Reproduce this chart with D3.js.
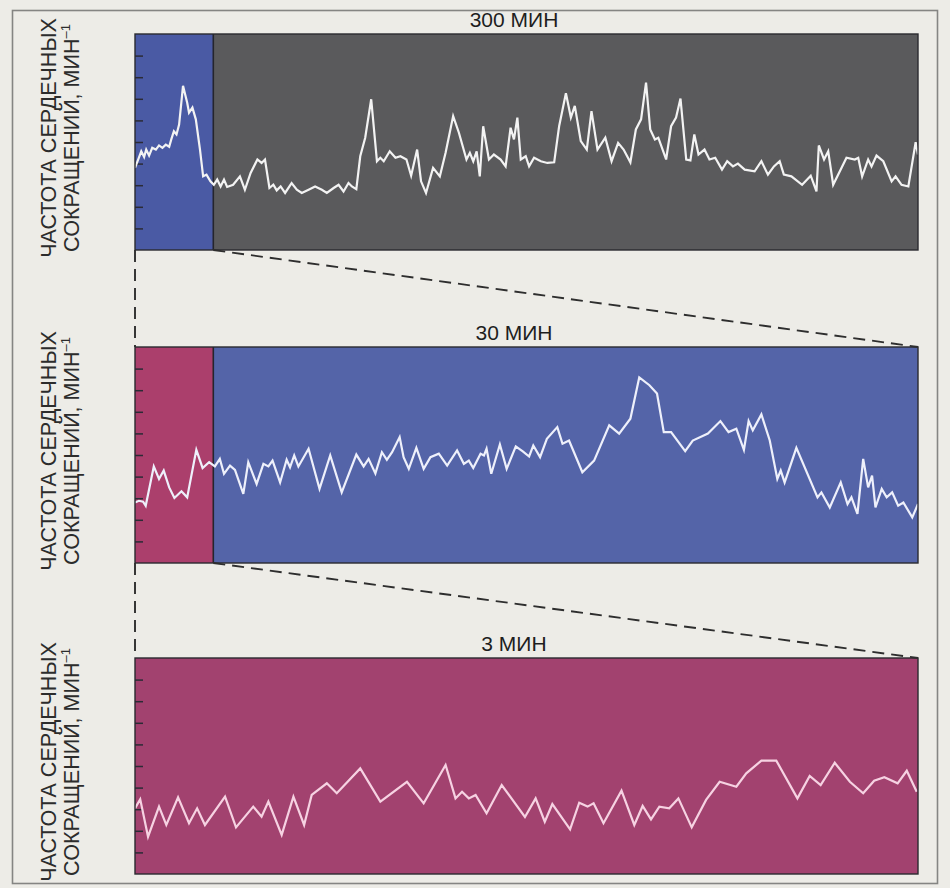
<!DOCTYPE html>
<html>
<head>
<meta charset="utf-8">
<script src="https://cdn.jsdelivr.net/npm/d3@7"></script>
<style>
  html, body { margin: 0; background: #edece7; }
  svg { display: block; }
</style>
</head>
<body>
<svg id="chart" width="950" height="888"></svg>
<script>
// heart rate, [minute, value in tick steps] (0 = panel bottom, 10 = top)
const hr300 = [
  [0,3.8],[1.5,4.28],[2.4,4.57],[3.5,4.31],[4.3,4.65],[5.4,4.37],[6.6,4.73],[8.0,4.65],[9.2,4.84],[10.5,4.73],
  [11.8,4.88],[13.1,4.78],[13.9,5.12],[14.9,5.5],[15.9,5.35],[16.9,5.81],[18.4,7.6],[20.0,6.82],[20.7,6.36],[22.0,6.59],
  [23.3,6.05],[24.9,4.65],[26.1,3.41],[27.4,3.49],[28.9,3.18],[30.2,3.02],[31.5,3.26],[32.8,2.94],[34.1,3.26],[35.3,2.92],
  [37.6,3.02],[40.2,3.41],[42.1,2.79],[44.3,3.57],[46.9,4.19],[48.5,4.03],[49.8,4.19],[51.5,2.87],[53.0,3.02],[54.3,2.76],
  [55.8,2.94],[57.5,2.64],[60.0,3.1],[62.0,2.79],[63.9,2.64],[66.5,2.79],[69.0,2.94],[71.6,2.79],[73.5,2.64],[76.1,2.87],
  [78.0,3.02],[79.9,2.71],[81.8,3.1],[83.1,2.94],[84.8,2.82],[86.3,4.34],[88.2,5.2],[90.5,6.98],[92.7,4.11],[94.0,4.27],
  [95.3,4.11],[97.6,4.57],[99.8,4.27],[101.7,4.34],[104.0,4.19],[105.8,3.44],[108.1,4.65],[109.6,3.18],[111.5,2.64],[114.2,3.8],
  [116.8,3.41],[119.0,4.5],[121.9,6.2],[124.1,5.43],[127.0,4.19],[128.3,4.5],[129.6,4.11],[130.9,4.57],[132.1,3.41],[133.4,5.73],
  [135.6,4.19],[137.5,4.42],[140.1,4.19],[142.0,3.87],[143.9,5.66],[145.2,5.12],[146.5,6.13],[147.8,4.19],[149.7,4.34],[151.0,3.87],
  [152.9,4.27],[155.5,4.11],[158.0,4.03],[160.6,4.06],[162.5,5.73],[165.1,7.26],[167.0,6.13],[168.5,6.67],[170.8,5.04],[173.1,4.65],
  [174.9,6.43],[177.2,4.65],[180.2,5.2],[182.6,4.11],[185.1,4.96],[187.2,4.65],[189.8,4.06],[191.9,5.58],[193.9,6.05],[195.8,7.75],
  [197.4,5.58],[199.2,5.12],[200.5,5.2],[203.5,4.19],[205.4,5.73],[207.3,6.13],[209.0,7.01],[211.2,4.19],[212.8,4.15],[214.3,5.35],
  [215.9,4.42],[218.2,4.65],[220.1,4.19],[222.3,4.27],[224.9,3.72],[226.9,4.11],[229.1,3.87],[231.0,4.0],[233.6,3.72],[237.4,3.64],
  [240.0,4.11],[242.5,3.49],[244.8,3.87],[247.0,4.11],[248.6,3.49],[251.5,3.41],[255.6,3.02],[258.9,3.44],[261.1,2.71],[262.0,4.84],
  [264.0,4.19],[265.6,4.57],[267.5,3.02],[272.6,4.27],[275.8,4.19],[277.1,4.27],[278.6,3.41],[280.9,4.19],[282.2,3.87],[284.1,4.37],
  [286.7,4.11],[289.9,3.18],[291.4,3.41],[293.7,3.02],[296.3,2.94],[299.1,4.99],[300,4.42]
];
const hr30 = [
  [0,2.8],[0.15,2.88],[0.31,2.84],[0.41,2.65],[0.72,4.47],[0.92,3.89],[1.10,4.28],[1.31,3.5],[1.51,3.01],[1.78,3.32],
  [2.00,3.04],[2.35,5.24],[2.59,4.4],[2.84,4.67],[3.06,4.47],[3.25,4.82],[3.41,4.13],[3.64,4.51],[3.83,4.31],[4.15,3.2],
  [4.34,4.67],[4.66,3.66],[4.92,4.59],[5.11,4.47],[5.27,4.74],[5.56,3.73],[5.81,4.78],[5.94,4.43],[6.10,4.98],[6.26,4.47],
  [6.65,5.29],[7.07,3.43],[7.48,4.98],[7.92,3.27],[8.48,5.02],[8.76,4.47],[8.95,4.82],[9.21,4.15],[9.46,5.13],[9.65,4.78],
  [9.85,5.13],[10.14,5.83],[10.29,4.9],[10.49,4.36],[10.78,5.33],[11.06,4.36],[11.32,4.9],[11.64,5.06],[11.96,4.51],[12.34,5.21],
  [12.60,4.59],[12.79,4.74],[12.96,4.4],[13.24,5.06],[13.37,4.98],[13.47,5.29],[13.65,4.13],[13.98,5.49],[14.24,4.36],[14.59,5.4],
  [14.87,5.16],[15.10,4.93],[15.26,5.44],[15.52,4.9],[15.78,5.75],[16.18,6.29],[16.38,5.52],[16.63,5.67],[17.14,4.2],[17.59,4.74],
  [18.17,6.37],[18.55,5.99],[18.98,6.68],[19.32,8.59],[19.71,8.23],[20.00,7.85],[20.26,6.06],[20.54,6.06],[21.08,5.18],[21.37,5.67],
  [21.95,5.99],[22.43,6.57],[22.74,6.06],[23.04,6.22],[23.33,5.24],[23.51,6.57],[23.67,6.14],[24.00,6.88],[24.32,5.67],[24.61,3.89],
  [24.74,4.28],[24.89,3.73],[25.34,5.33],[26.15,3.04],[26.30,3.27],[26.62,2.57],[27.04,3.73],[27.30,2.73],[27.45,3.04],[27.68,2.27],
  [27.90,4.82],[28.09,3.5],[28.24,4.05],[28.37,2.57],[28.61,3.43],[28.80,3.04],[29.01,3.27],[29.24,2.65],[29.44,2.8],[29.78,2.11],
  [30,2.73]
];
const hr3 = [
  [0,3.04],[0.020,3.46],[0.050,1.73],[0.092,3.12],[0.120,2.27],[0.165,3.55],[0.207,2.35],[0.238,3.04],[0.268,2.27],[0.345,3.58],
  [0.387,2.16],[0.453,3.12],[0.485,2.65],[0.511,3.35],[0.562,1.81],[0.607,3.58],[0.648,2.27],[0.677,3.66],[0.735,4.2],[0.773,3.74],
  [0.863,4.89],[0.940,3.35],[1.042,4.27],[1.106,3.27],[1.190,5.05],[1.228,3.5],[1.253,3.81],[1.279,3.5],[1.305,3.66],[1.347,2.81],
  [1.405,4.12],[1.494,2.64],[1.535,3.5],[1.570,2.42],[1.599,3.24],[1.667,2.07],[1.702,3.3],[1.734,3.12],[1.757,3.27],[1.795,2.35],
  [1.864,3.86],[1.913,2.27],[1.945,3.15],[1.977,2.53],[2.009,3.12],[2.047,3.04],[2.082,3.5],[2.133,2.16],[2.188,3.43],[2.240,4.27],
  [2.304,4.04],[2.342,4.66],[2.400,5.25],[2.457,5.25],[2.538,3.5],[2.585,4.54],[2.627,4.12],[2.681,5.15],[2.739,4.27],[2.790,3.74],
  [2.832,4.32],[2.871,4.48],[2.922,4.2],[2.957,4.78],[2.995,3.81]
];
const series = [hr300, hr30, hr3];
const titles = ["300 МИН", "30 МИН", "3 МИН"];
const spans = [300, 30, 3];      // minutes shown in each panel
const zoomed = [30, 3, 0];       // first minutes blown up in the panel below
const yTicks = [1, 2, 3, 4, 5, 6, 7, 8, 9];
const yLabel = ["ЧАСТОТА СЕРДЕЧНЫХ", "СОКРАЩЕНИЙ, МИН"];

const left = 135, right = 918, ph = 216;
const tops = [34, 347, 658];
const bgMain = ["#5a5a5c", "#5464a8", "#a2426f"];
const bgZoom = ["#4a5aa4", "#ab3f6c", null];
const lineCol = ["#f3f3f3", "#eef0fb", "#f6d2e2"];
const font = "'Liberation Sans', Arial, sans-serif";

const svg = d3.select("#chart");

// outer frame of the figure
svg.append("rect")
  .attr("x", 12.5).attr("y", 10.5)
  .attr("width", 925).attr("height", 873)
  .attr("fill", "none").attr("stroke", "#858583").attr("stroke-width", 1.6);

const xs = [], ys = [];

series.forEach(function(data, i) {
  const top = tops[i];
  const x = d3.scaleLinear().domain([0, spans[i]]).range([left, right]);
  const y = d3.scaleLinear().domain([0, 10]).range([top + ph, top]);
  xs.push(x); ys.push(y);

  const g = svg.append("g");

  g.append("rect")
    .attr("x", x(0)).attr("y", y(10))
    .attr("width", x(spans[i]) - x(0)).attr("height", y(0) - y(10))
    .attr("fill", bgMain[i]);

  if (zoomed[i]) {
    g.append("rect")
      .attr("x", x(0)).attr("y", y(10))
      .attr("width", x(zoomed[i]) - x(0)).attr("height", y(0) - y(10))
      .attr("fill", bgZoom[i]);
    g.append("line")
      .attr("x1", x(zoomed[i])).attr("x2", x(zoomed[i]))
      .attr("y1", y(10)).attr("y2", y(0))
      .attr("stroke", "#25252d").attr("stroke-width", 1.6);
  }

  // short ticks on the inside of the left edge, no labels
  const ax = g.append("g")
    .attr("transform", "translate(" + left + ",0)")
    .call(d3.axisRight(y).tickValues(yTicks).tickSize(8).tickFormat(""));
  ax.select(".domain").remove();
  ax.selectAll(".tick line").attr("stroke", "#2b2b36").attr("stroke-width", 1.5);

  const line = d3.line()
    .x(function(d) { return x(d[0]); })
    .y(function(d) { return y(d[1]); });

  g.append("path")
    .datum(data)
    .attr("d", line)
    .attr("fill", "none")
    .attr("stroke", lineCol[i])
    .attr("stroke-width", 2.2)
    .attr("stroke-linejoin", "miter")
    .attr("stroke-miterlimit", 4);

  g.append("rect")
    .attr("x", x(0)).attr("y", y(10))
    .attr("width", x(spans[i]) - x(0)).attr("height", y(0) - y(10))
    .attr("fill", "none").attr("stroke", "#2a2a30").attr("stroke-width", 1.4);

  g.append("text")
    .attr("x", 514).attr("y", top - 7)
    .attr("text-anchor", "middle")
    .attr("font-family", font).attr("font-size", 21)
    .attr("fill", "#1e1e1e")
    .text(titles[i]);

  // rotated two-line axis title
  const cy = top + ph / 2 - 4;
  const lab = g.append("text")
    .attr("transform", "translate(56," + cy + ") rotate(-90)")
    .attr("text-anchor", "middle")
    .attr("font-family", font).attr("font-size", 21.5)
    .attr("fill", "#2c2c2c");
  lab.append("tspan").attr("x", 0).attr("y", 0).text(yLabel[0]);
  lab.append("tspan").attr("x", 0).attr("y", 23).text(yLabel[1]);
  lab.append("tspan").attr("dy", -9).attr("font-size", 13).text("–1");
});

// dashed guides from each highlighted stretch to the panel below
for (let i = 0; i < 2; i++) {
  const g = svg.append("g")
    .attr("stroke", "#2e2e2e").attr("stroke-width", 1.9)
    .attr("stroke-dasharray", "12,7").attr("fill", "none");
  g.append("line")
    .attr("x1", xs[i](0)).attr("x2", xs[i + 1](0))
    .attr("y1", ys[i](0)).attr("y2", ys[i + 1](10));
  g.append("line")
    .attr("x1", xs[i](zoomed[i])).attr("x2", xs[i + 1](spans[i + 1]))
    .attr("y1", ys[i](0)).attr("y2", ys[i + 1](10));
}
</script>
</body>
</html>
